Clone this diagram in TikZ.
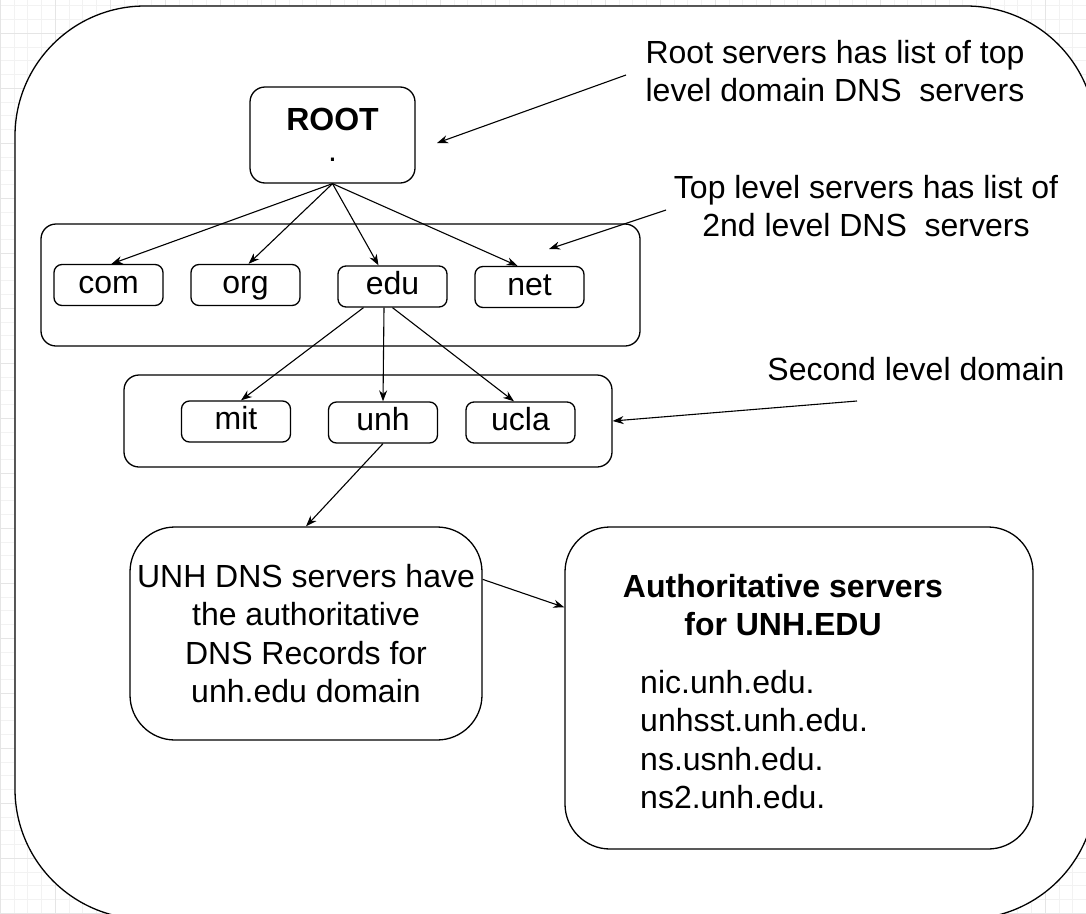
\documentclass[tikz,border=0pt]{standalone}
\usepackage{fontspec}
\setmainfont{Liberation Sans}
\usepackage{tikz}
\usetikzlibrary{arrows.meta}
\newcommand{\bigtext}{\fontsize{32}{38.4}\selectfont}

\begin{document}
\begin{tikzpicture}[x=1pt,y=-1pt]
  \tikzset{zone/.style={draw, rounded corners=15pt, line width=1.3pt, inner sep=0pt},
           namebox/.style={draw, rounded corners=8pt, line width=1.3pt, minimum width=109pt, minimum height=41pt, inner sep=0pt, text height=23pt, text depth=7pt, font=\bigtext},
           link/.style={line width=1.1pt, -{Stealth[length=11pt,width=8pt]}},
           note/.style={align=center, font=\bigtext, inner sep=0pt}}
  \useasboundingbox (0,0) rectangle (1086,913);
  \clip (0,0) rectangle (1086,913);
  % background grid
  \begin{scope}[y=1pt, shift={(0,-33)}]
    \draw[black!5, step=13.75] (-30,-900) grid (1100,40);
    \draw[black!10, step=55] (-30,-900) grid (1100,40);
  \end{scope}
  \node[draw, fill=white, rounded corners=130pt, line width=1.3pt, minimum width=1081pt, minimum height=913pt, inner sep=0pt] (frame) at (555.5,462.5) {};
  % root level
  \node[zone, minimum width=165pt, minimum height=96pt, align=center, font=\bigtext] (root) at (332.5,135) {\textbf{ROOT}\\[-8pt].};
  % top level domains
  \node[zone, minimum width=599pt, minimum height=122pt] (tld) at (340.5,285) {};
  \node[namebox] (com) at (108.5,285) {com};
  \node[namebox] (org) at (245.5,285) {org};
  \node[namebox] (edu) at (392.5,286.5) {edu};
  \node[namebox] (net) at (529.5,287) {net};
  \draw[link] (root.south) -- ([xshift=3pt]com.north);
  \draw[link] (root.south) -- ([xshift=3pt]org.north);
  \draw[link] (root.south) -- ([xshift=-14pt]edu.north);
  \draw[link] (root.south) -- ([xshift=-12pt]net.north);
  % second level domains
  \node[zone, minimum width=488pt, minimum height=92pt] (sld) at (368,421) {};
  \node[namebox] (mit) at (236,421.5) {mit};
  \node[namebox] (unh) at (383,422.5) {unh};
  \node[namebox] (ucla) at (520.5,422.5) {ucla};
  \draw[link] ([xshift=-29pt]edu.south) -- ([xshift=5pt]mit.north);
  \draw[link] ([xshift=-8.5pt]edu.south) -- (unh.north);
  \draw[link] (edu.south) -- ([xshift=-6.5pt]ucla.north);
  % unh servers
  \node[draw, rounded corners=45pt, line width=1.3pt, minimum width=352pt, minimum height=213pt, note] (dns) at (306,633.5) {UNH DNS servers have\\the authoritative\\ DNS Records for\\unh.edu domain};
  \draw[link] (unh.south) -- (dns.north);
  \node[draw, rounded corners=45pt, line width=1.3pt, minimum width=468pt, minimum height=322pt] (auth) at (799,688) {};
  \node[note, font=\bigtext\bfseries, anchor=north] (authtitle) at (783,574) {Authoritative servers\\for UNH.EDU};
  \node[note, align=left, anchor=north west] (authlist) at (640,670) {nic.unh.edu.\\unhsst.unh.edu.\\ns.usnh.edu.\\ns2.unh.edu.};
  \draw[link] ([yshift=-53pt]dns.north east) -- ([yshift=-81pt]auth.north west);
  % notes
  \node[note, anchor=north] (rootnote) at (835,40) {Root servers has list of top\\level domain DNS\ \ servers};
  \node[note, anchor=north] (tldnote) at (866,175) {Top level servers has list of\\2nd level DNS\ \ servers};
  \node[note, anchor=north] (sldnote) at (916,357) {Second level domain};
  \coordinate (rootcall) at (626,75);
  \coordinate (roothead) at (437,143);
  \coordinate (tldcall) at (666,210);
  \coordinate (tldhead) at (549,249);
  \coordinate (sldcall) at (857,401);
  \draw[link] (rootcall) -- (roothead);
  \draw[link] (tldcall) -- (tldhead);
  \draw[link] (sldcall) -- (sld.east);
\end{tikzpicture}
\end{document}
